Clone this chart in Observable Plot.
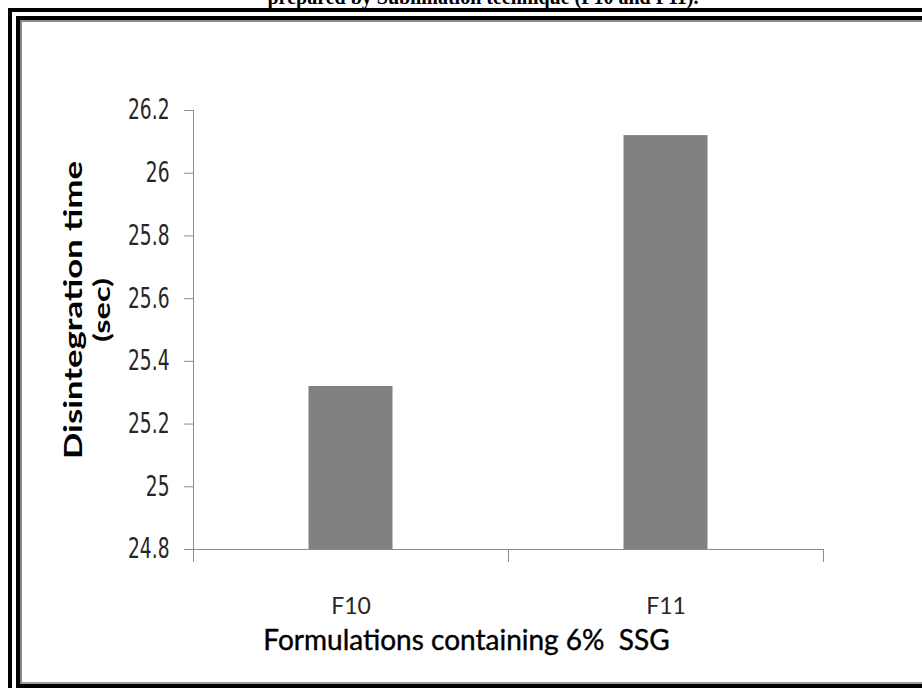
<!DOCTYPE html>
<html>
<head>
<meta charset="utf-8">
<script src="https://cdn.jsdelivr.net/npm/d3@7"></script>
<script src="https://cdn.jsdelivr.net/npm/@observablehq/plot@0.6"></script>
<style>
  html, body { margin: 0; padding: 0; background: #fff; }
  #page { position: relative; width: 922px; height: 688px; overflow: hidden; background: #fff; }
  #caption {
    position: absolute; left: 0; top: -12px; width: 966px; text-align: center;
    font-family: "Liberation Serif", "Times New Roman", serif; font-weight: bold;
    font-size: 20px; line-height: 19px; color: #000; white-space: nowrap;
  }
  #outer {
    position: absolute; left: 8px; top: 8px; width: 2000px; height: 2000px;
    border-top: 4px solid #000; border-left: 4px solid #000; box-sizing: border-box;
    pointer-events: none; z-index: 2;
  }
  #inner {
    position: absolute; left: 16px; top: 16px; width: 2000px; height: 672px;
    border-top: 4px solid #000; border-left: 4px solid #000; border-bottom: 4px solid #000;
    box-sizing: border-box; box-shadow: inset 2px 2px 0 #8a8a8a, inset 0 -2px 0 #9a9a9a;
    pointer-events: none; z-index: 2;
  }
  #chart { position: absolute; left: 0; top: 0; z-index: 1; }
</style>
</head>
<body>
<div id="page">
  <div id="caption">prepared by Sublimation technique (F10 and F11).</div>
  <div id="chart"></div>
  <div id="outer"></div>
  <div id="inner"></div>
</div>
<script>
// Disintegration time of the two sublimation formulations
const categories = ["F10", "F11"];
const values = [25.32, 26.12];
const yTicks = [24.8, 25, 25.2, 25.4, 25.6, 25.8, 26, 26.2];
const yTickLabels = ["24.8", "25", "25.2", "25.4", "25.6", "25.8", "26", "26.2"];
const yTitleLines = ["Disintegration time", "(sec)"];
const xTitle = "Formulations containing 6%  SSG";

const yMin = yTicks[0];
const yMax = yTicks[yTicks.length - 1];
const rows = categories.map((c, i) => ({category: c, index: i, value: values[i]}));
const centers = categories.map((c, i) => i + 0.5);
const bounds = d3.range(categories.length + 1);

const axisGrey = "#8c8c8c";
const condensed = "'DejaVu Sans Condensed', 'DejaVu Sans', sans-serif";
const humanist = "Lato, 'Open Sans', sans-serif";

const chart = Plot.plot({
  width: 922,
  height: 688,
  marginLeft: 193,
  marginRight: 99,
  marginTop: 110,
  marginBottom: 139,
  style: {background: "transparent", overflow: "visible"},
  x: {domain: [0, categories.length], axis: null},
  y: {domain: [yMin, yMax], axis: null},
  marks: [
    // bars
    Plot.rectY(rows, {
      x1: "index", x2: d => d.index + 1, y1: yMin, y2: "value",
      insetLeft: 115.5, insetRight: 115.5, fill: "#808080"
    }),
    // y axis: ticks, line and labels
    Plot.axisY({ticks: yTicks, tickSize: 9, text: null, label: null, stroke: axisGrey}),
    Plot.ruleX([0], {y1: yMin, y2: yMax, stroke: axisGrey}),
    Plot.axisY({
      ticks: yTicks, tickSize: 0, tickPadding: 24, label: null,
      tickFormat: v => yTickLabels[yTicks.indexOf(v)],
      fontFamily: condensed, fontSize: 28, fill: "#262626",
      className: "ytick"
    }),
    // x axis: baseline, category boundary ticks and labels
    Plot.ruleY([yMin], {stroke: axisGrey}),
    Plot.axisX({ticks: bounds, tickSize: 13, text: null, label: null, stroke: axisGrey}),
    Plot.axisX({
      ticks: centers, tickSize: 0, tickPadding: 48, label: null,
      tickFormat: v => categories[Math.floor(v)],
      fontFamily: humanist, fontSize: 23, fill: "#262626"
    }),
    // axis titles
    Plot.text([xTitle], {
      frameAnchor: "bottom", dx: -42, dy: 100,
      fontFamily: humanist, fontSize: 28, fill: "#000",
      stroke: "#000", strokeWidth: 0.4
    }),
    Plot.text([yTitleLines[0]], {
      frameAnchor: "left", dx: -119, dy: -20, rotate: -90, textAnchor: "middle",
      fontFamily: humanist, fontSize: 24, fontWeight: "bold", fill: "#000",
      className: "ytitle-main"
    }),
    Plot.text([yTitleLines[1]], {
      frameAnchor: "left", dx: -91, dy: -20, rotate: -90, textAnchor: "middle",
      fontFamily: humanist, fontSize: 23, fontWeight: "bold", fill: "#000",
      className: "ytitle-unit"
    })
  ]
});

document.getElementById("chart").appendChild(chart);

// Tick labels use a tall, narrow face; the vertical title runs long and widely spaced.
function fitText(selector, length) {
  chart.querySelectorAll(selector + " text").forEach(t => {
    const w = t.getComputedTextLength();
    const target = typeof length === "function" ? length(w) : length;
    t.setAttribute("textLength", target.toFixed(1));
    t.setAttribute("lengthAdjust", "spacingAndGlyphs");
  });
}
fitText(".ytick", w => w * 0.74);
fitText(".ytitle-main", 298);
fitText(".ytitle-unit", 64);
</script>
</body>
</html>
